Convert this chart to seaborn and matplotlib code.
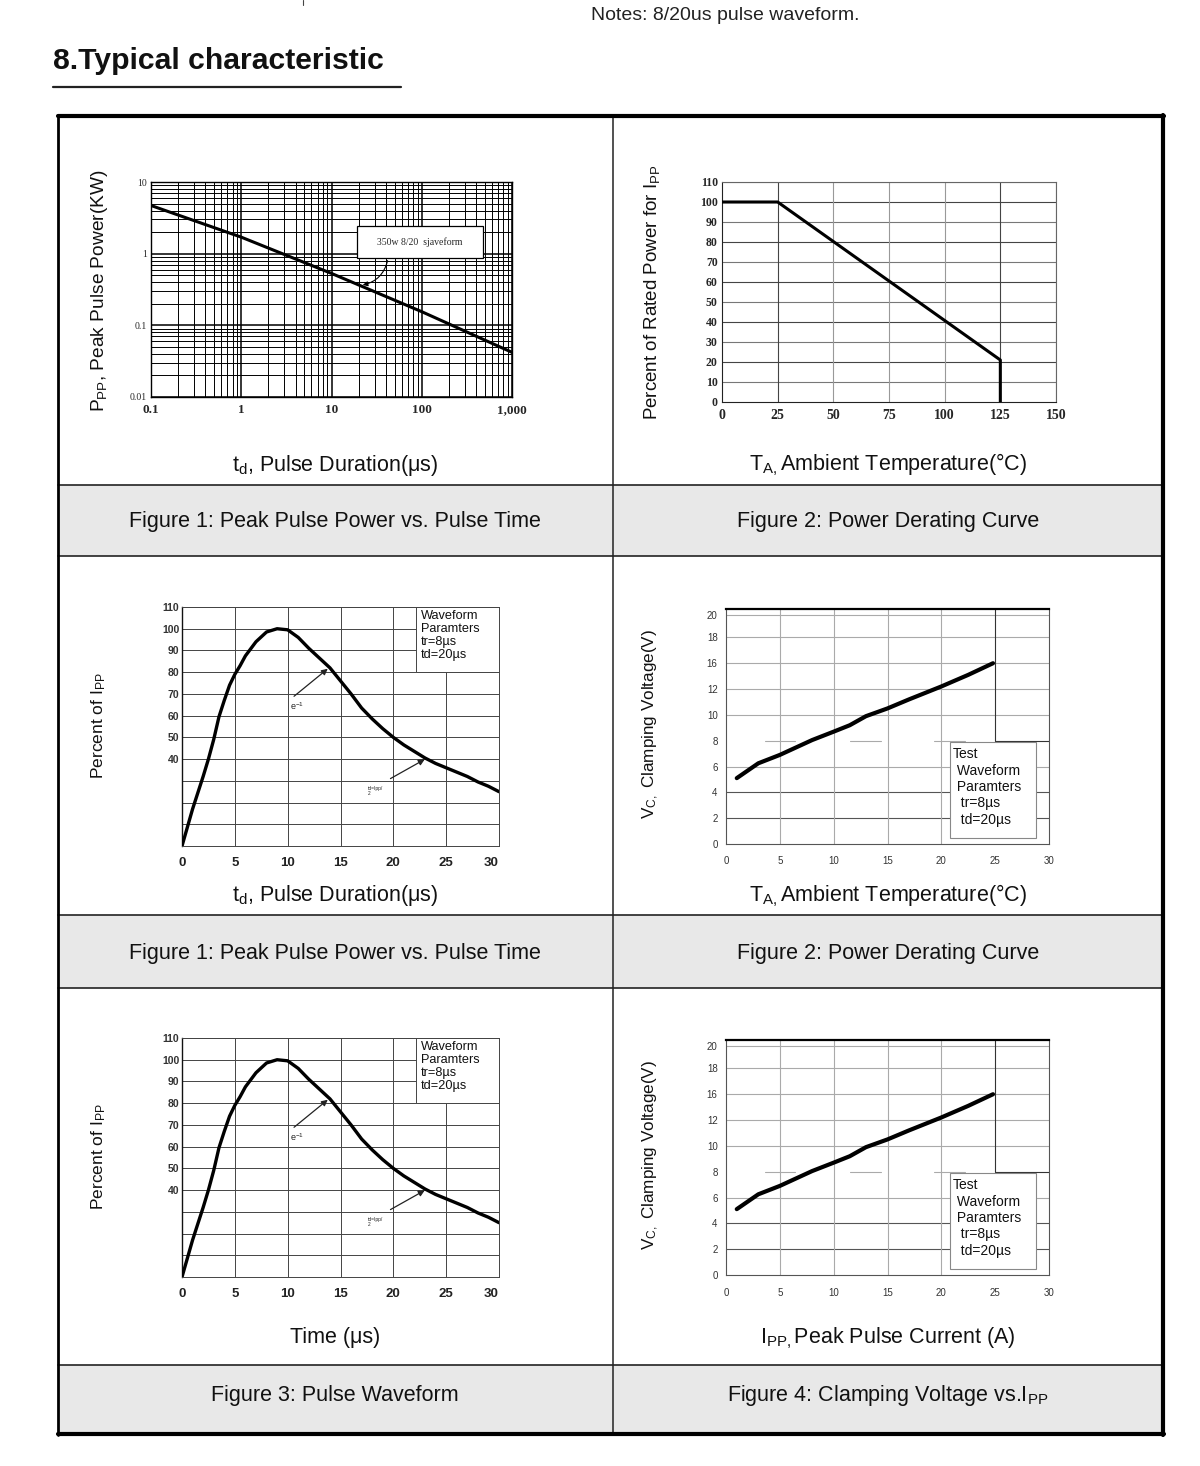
import numpy as np
import pandas as pd
import matplotlib
matplotlib.use("Agg")
import matplotlib.pyplot as plt
import seaborn as sns
from matplotlib.patches import Rectangle
from matplotlib.ticker import FixedLocator, NullFormatter, MultipleLocator, LogLocator

# ---------------- data ----------------
# Figure 1: peak pulse power vs pulse duration (log-log)
fig1_t = [0.1, 1, 10, 100, 1000]
fig1_p = [4.7, 1.7, 0.53, 0.155, 0.042]
fig1_xticks = [0.1, 1, 10, 100, 1000]
fig1_xlabels = ["0.1", "1", "10", "100", "1,000"]
fig1_yticks = [0.01, 0.1, 1, 10]
fig1_ylabels = ["0.01", "0.1", "1", "10"]

# Figure 2: power derating curve
fig2_temp = [0, 25, 125, 125]
fig2_pct = [100, 100, 21, 0]

# Pulse waveform (percent of Ipp vs time)
pulse_t = [0, 1, 2, 2.5, 3, 3.5, 4, 4.5, 5, 5.5, 6, 7, 8, 9, 10, 11, 12, 13,
           14, 15, 16, 17, 18, 19, 20, 21, 22, 23, 24, 25, 26, 27, 28, 29, 30]
pulse_v = [0, 17, 32, 40, 49, 59.5, 67, 74, 79, 83, 87.5, 94, 98.5, 100, 99.5,
           96, 91, 86.5, 82, 76, 70, 63.5, 58.5, 54, 50, 46.5, 43.5, 40.5, 38,
           36, 34, 32, 29.5, 27.5, 25]
pulse_xticks = [0, 5, 10, 15, 20, 25, 30]
pulse_xlabels = ["0", "5", "10", "15", "20", "25", "30"]
pulse_ylabels = ["40", "50", "60", "70", "80", "90", "100", "110"]

# Clamping voltage curve (values on the chart's drawn y scale)
clamp_x = [1, 3, 5, 8, 10, 11.5, 13, 15, 17, 20, 22.5, 24.8]
clamp_y = [5.1, 6.25, 6.9, 8.05, 8.7, 9.2, 9.9, 10.5, 11.2, 12.2, 13.1, 14.0]
clamp_ylabels = ["0", "2", "4", "6", "8", "10", "12", "16", "18", "20"]

# ---------------- figure ----------------
sns.set_theme(style="white")
plt.rcParams["font.family"] = ["Liberation Sans", "DejaVu Sans"]
plt.rcParams["mathtext.default"] = "regular"

W, H = 1200, 1466
fig = plt.figure(figsize=(W / 100, H / 100), dpi=100)
fig.patch.set_facecolor("white")


def rect(x0, y0, x1, y1):
    return [x0 / W, 1 - y1 / H, (x1 - x0) / W, (y1 - y0) / H]


# background "page" axes in pixel coordinates
bg = fig.add_axes([0, 0, 1, 1])
bg.set_xlim(0, W)
bg.set_ylim(H, 0)
bg.axis("off")

for (y0, y1) in [(485, 556), (915, 988), (1365, 1433)]:
    bg.add_patch(Rectangle((60, y0), 1102, y1 - y0, color="#e8e8e8", lw=0))
for y in [485, 556, 915, 988, 1365]:
    bg.plot([58, 1163], [y, y], color="#222", lw=1.2)
bg.plot([613, 613], [116, 1434], color="#222", lw=1.1)
bg.plot([58, 1164], [116, 116], color="black", lw=3)
bg.plot([1163, 1163], [115, 1435], color="black", lw=3)
bg.plot([58, 1164], [1434, 1434], color="black", lw=3)
bg.plot([58, 58], [115, 1435], color="black", lw=2)
bg.plot([303, 303], [0, 5], color="#444", lw=0.8)

bg.text(591, 15, "Notes: 8/20us pulse waveform.", fontsize=14, va="center",
        ha="left", color="#222")
bg.text(53, 61, "8.Typical characteristic", fontsize=21.7, fontweight="bold",
        va="center", ha="left", color="#111")
bg.plot([53, 401], [87, 87], color="#222", lw=1.6)

cap_kw = dict(fontsize=15.5, ha="center", va="center", color="#111")
bg.text(335, 522, "Figure 1: Peak Pulse Power vs. Pulse Time", **cap_kw)
bg.text(888, 522, "Figure 2: Power Derating Curve", **cap_kw)
bg.text(335, 953, "Figure 1: Peak Pulse Power vs. Pulse Time", **cap_kw)
bg.text(888, 953, "Figure 2: Power Derating Curve", **cap_kw)
bg.text(335, 1395, "Figure 3: Pulse Waveform", **cap_kw)
bg.text(888, 1395, "Figure 4: Clamping Voltage vs.I$_{PP}$", **cap_kw)

bg.text(335, 465, "t$_{d}$, Pulse Duration(μs)", **cap_kw)
bg.text(888, 465, "T$_{A,}$Ambient Temperature(°C)", **cap_kw)
bg.text(335, 896, "t$_{d}$, Pulse Duration(μs)", **cap_kw)
bg.text(888, 896, "T$_{A,}$Ambient Temperature(°C)", **cap_kw)
bg.text(335, 1338, "Time (μs)", **cap_kw)
bg.text(888, 1338, "I$_{PP,}$Peak Pulse Current (A)", **cap_kw)

ylab_kw = dict(rotation=90, ha="center", va="center", color="#111")
bg.text(100, 291, "P$_{PP}$, Peak Pulse Power(KW)", fontsize=13.8, **ylab_kw)
bg.text(652, 292, "Percent of Rated Power for I$_{PP}$", fontsize=13.5, **ylab_kw)
bg.text(99, 726, "Percent of I$_{PP}$", fontsize=12.5, **ylab_kw)
bg.text(99, 1157, "Percent of I$_{PP}$", fontsize=12.5, **ylab_kw)
bg.text(651, 724, "V$_{C,}$ Clamping Voltage(V)", fontsize=12.3, **ylab_kw)
bg.text(651, 1155, "V$_{C,}$ Clamping Voltage(V)", fontsize=12.3, **ylab_kw)

serif = ["Liberation Serif", "DejaVu Serif"]

# ---------------- Figure 1 ----------------
ax1 = fig.add_axes(rect(151, 182, 512, 397))
ax1.set_xscale("log")
ax1.set_yscale("log")
ax1.set_xlim(0.1, 1000)
ax1.set_ylim(0.01, 10)
ax1.xaxis.set_major_locator(FixedLocator(fig1_xticks))
ax1.xaxis.set_minor_locator(LogLocator(base=10, subs=np.arange(2, 10)))
ax1.yaxis.set_major_locator(FixedLocator(fig1_yticks))
ax1.yaxis.set_minor_locator(LogLocator(base=10, subs=np.arange(2, 10)))
ax1.xaxis.set_minor_formatter(NullFormatter())
ax1.yaxis.set_minor_formatter(NullFormatter())
ax1.set_xticklabels(fig1_xlabels, family=serif, fontweight="bold", fontsize=9.5)
ax1.set_yticklabels(fig1_ylabels, family=serif, fontsize=7)
ax1.grid(True, which="major", color="black", lw=1.1)
ax1.grid(True, which="minor", color="black", lw=0.7)
ax1.tick_params(which="both", length=0, pad=5)
ax1.tick_params(axis="y", pad=3)
for s in ax1.spines.values():
    s.set_color("black")
    s.set_linewidth(1)
sns.lineplot(x=fig1_t, y=fig1_p, ax=ax1, color="black", lw=2.2, sort=False,
             estimator=None)
ax1.add_patch(Rectangle((0.571, 0.647), 0.349, 0.148, transform=ax1.transAxes,
                        facecolor="white", edgecolor="black", lw=0.9, zorder=4))
ax1.text(0.745, 0.721, "350w 8/20  sjaveform", transform=ax1.transAxes,
         ha="center", va="center", family=serif, fontsize=7, zorder=5)
ax1.annotate("", xy=(20.7, 0.36), xytext=(0.657, 0.647),
             textcoords="axes fraction",
             arrowprops=dict(arrowstyle="-|>", color="black", lw=0.8,
                             connectionstyle="arc3,rad=-0.35",
                             mutation_scale=7),
             zorder=5)

# ---------------- Figure 2 ----------------
ax2 = fig.add_axes(rect(722, 182, 1056, 402))
ax2.set_xlim(0, 150)
ax2.set_ylim(0, 110)
ax2.xaxis.set_major_locator(MultipleLocator(25))
ax2.yaxis.set_major_locator(MultipleLocator(10))
for v in range(10, 111, 10):
    ax2.axhline(v, color="#444" if v % 20 == 0 else "#777", lw=0.8, zorder=1)
for v in [25, 50, 75, 100, 125, 150]:
    ax2.axvline(v, color="#444" if v in (25, 125) else "#999", lw=0.8, zorder=1)
for s in ax2.spines.values():
    s.set_color("#666")
    s.set_linewidth(0.8)
ax2.spines["left"].set_color("#222")
ax2.spines["bottom"].set_color("#222")
ax2.tick_params(length=0, pad=5)
ax2.tick_params(axis="y", pad=3)
for lab in ax2.get_xticklabels():
    lab.set_fontfamily(serif)
    lab.set_fontweight("bold")
    lab.set_fontsize(10)
for lab in ax2.get_yticklabels():
    lab.set_fontfamily(serif)
    lab.set_fontweight("bold")
    lab.set_fontsize(8.5)
sns.lineplot(x=fig2_temp, y=fig2_pct, ax=ax2, color="black", lw=2.2,
             sort=False, estimator=None, zorder=3)


# ---------------- Figure 3 (pulse waveform) ----------------
def pulse_panel(top):
    ax = fig.add_axes(rect(182, top, 499, top + 239))
    ax.set_xlim(0, 30)
    ax.set_ylim(0, 110)
    ax.set_xticks(pulse_xticks, labels=pulse_xlabels, fontsize=9.5,
                  fontweight="bold", color="#222")
    ax.get_xticklabels()[-1].set_horizontalalignment("right")
    ax.yaxis.set_major_locator(FixedLocator(list(range(40, 111, 10))))
    ax.set_yticklabels(pulse_ylabels, fontsize=7.5, fontweight="bold",
                       color="#333")
    for v in range(10, 111, 10):
        ax.axhline(v, color="#444", lw=0.7, zorder=1)
    for v in range(5, 31, 5):
        ax.axvline(v, color="#444", lw=0.7, zorder=1)
    for s in ax.spines.values():
        s.set_color("#444")
        s.set_linewidth(0.7)
    ax.spines["left"].set_color("#111")
    ax.spines["left"].set_linewidth(1.0)
    ax.tick_params(length=0, pad=8)
    ax.tick_params(axis="y", pad=2)
    sns.lineplot(x=pulse_t, y=pulse_v, ax=ax, color="black", lw=2.4,
                 sort=False, estimator=None, zorder=3)
    ax.add_patch(Rectangle((22.1, 80), 7.9, 30, facecolor="white",
                           edgecolor="#444", lw=0.7, zorder=2))
    ax.text(22.6, 108.5, "Waveform\nParamters\ntr=8µs\ntd=20µs", ha="left",
            va="top", fontsize=9.2, linespacing=1.12, color="#111", zorder=4)
    ax.annotate("", xy=(14.0, 82.4), xytext=(10.4, 68.1),
                arrowprops=dict(arrowstyle="-|>", color="#222", lw=0.9,
                                mutation_scale=9), zorder=5)
    ax.text(10.9, 64.5, "e$^{-1}$", fontsize=6.5, ha="center", va="center",
            color="#222")
    ax.annotate("", xy=(23.2, 40.5), xytext=(19.5, 30.4),
                arrowprops=dict(arrowstyle="-|>", color="#222", lw=0.9,
                                mutation_scale=9), zorder=5)
    ax.text(17.6, 25.5, "td=Ipp/\n2", fontsize=3.5, ha="left", va="center",
            color="#222", linespacing=1.0)
    return ax


# ---------------- Figure 4 (clamping voltage) ----------------
def clamp_panel(top):
    ax = fig.add_axes(rect(726, top, 1049, top + 235))
    ax.set_xlim(0, 30)
    ax.set_ylim(0, 18.2)
    ax.xaxis.set_major_locator(MultipleLocator(5))
    ax.xaxis.set_minor_locator(MultipleLocator(1))
    ax.yaxis.set_major_locator(FixedLocator([0, 2, 4, 6, 8, 10, 12, 14, 16, 17.7]))
    ax.yaxis.set_minor_locator(MultipleLocator(0.5))
    ax.set_yticklabels(clamp_ylabels, fontsize=7, color="#333")
    for lab in ax.get_xticklabels():
        lab.set_fontsize(7)
        lab.set_color("#333")
    ax.tick_params(axis="x", which="major", length=0, pad=9)
    ax.tick_params(axis="x", which="minor", length=3, color="#666", width=0.6,
                   direction="out")
    ax.tick_params(axis="y", which="major", length=0, pad=6)
    ax.tick_params(axis="y", which="minor", length=3, color="#666", width=0.6,
                   direction="in")
    for v in [2, 4]:
        ax.axhline(v, color="#555", lw=0.8, zorder=1)
    for v in [6, 10, 12, 14, 16, 17.7]:
        ax.axhline(v, color="#aaa", lw=0.8, zorder=1)
    for (a, b) in [(3.6, 6.4), (11.5, 14.4), (19.3, 22.2)]:
        ax.plot([a, b], [8, 8], color="#aaa", lw=0.8, zorder=1)
    ax.plot([25, 30], [8, 8], color="#333", lw=0.8, zorder=1)
    ax.plot([25, 25], [8, 18.2], color="#333", lw=0.8, zorder=1)
    for v in [5, 10, 15, 20]:
        ax.axvline(v, color="#aaa", lw=0.8, zorder=1)
    for s in ax.spines.values():
        s.set_color("#555")
        s.set_linewidth(0.8)
    ax.spines["top"].set_color("black")
    ax.spines["top"].set_linewidth(1.6)
    sns.lineplot(x=clamp_x, y=clamp_y, ax=ax, color="black", lw=3,
                 sort=False, estimator=None, zorder=3)
    ax.add_patch(Rectangle((20.8, 0.44), 8.0, 7.46, facecolor="white",
                           edgecolor="#888", lw=0.8, zorder=2))
    ax.text(21.1, 7.5, "Test\n Waveform\n Paramters\n  tr=8µs\n  td=20µs",
            ha="left", va="top", fontsize=10, linespacing=1.22, color="#111",
            zorder=4)
    return ax


pulse_panel(607)
pulse_panel(1038)
clamp_panel(609)
clamp_panel(1040)

fig.savefig("out.png", dpi=100)
